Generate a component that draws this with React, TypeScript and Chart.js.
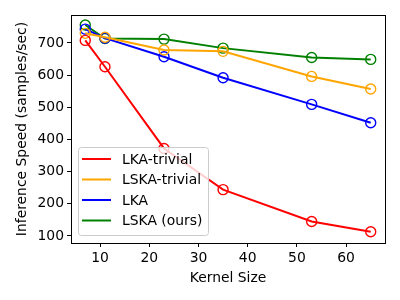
import React, { useEffect, useRef } from "react";
import { Chart, registerables } from "chart.js";

Chart.register(...registerables);

const kernelSizes = [7, 11, 23, 35, 53, 65];
const lkaTrivial = [708, 626, 372, 244, 145, 113];
const lskaTrivial = [730, 718, 678, 674, 596, 557];
const lka = [743, 715, 657, 592, 509, 452];
const lskaOurs = [756, 714, 712, 684, 655, 649];
const yTicks = [100, 200, 300, 400, 500, 600, 700];
const xTicks = [10, 20, 30, 40, 50, 60];

const FONT = "'DejaVu Sans', sans-serif";

const frame = {
  id: "frame",
  afterDraw(chart: any) {
    const { ctx, chartArea: a } = chart;
    ctx.save();
    ctx.strokeStyle = "#000";
    ctx.lineWidth = 1;
    ctx.strokeRect(Math.round(a.left) + 0.5, Math.round(a.top) + 0.5, Math.round(a.right - a.left), Math.round(a.bottom - a.top));
    // legend
    const x0 = 78, y0 = 147, w = 130, h = 88;
    ctx.fillStyle = "rgba(255,255,255,0.8)";
    ctx.strokeStyle = "#cccccc";
    ctx.beginPath();
    (ctx as any).roundRect(x0 + 0.5, y0 + 0.5, w, h, 3);
    ctx.fill();
    ctx.stroke();
    ctx.font = `13.9px ${FONT}`;
    ctx.textBaseline = "middle";
    chart.data.datasets.forEach((ds: any, i: number) => {
      const cy = 159 + i * 20.5;
      ctx.strokeStyle = ds.borderColor;
      ctx.lineWidth = 2;
      ctx.beginPath();
      ctx.moveTo(82, cy);
      ctx.lineTo(111, cy);
      ctx.stroke();
      ctx.fillStyle = "#000";
      ctx.fillText(ds.label, 122, cy + 1);
    });
    ctx.restore();
  },
};

const mk = (label: string, data: number[], color: string) => ({
  label,
  data: kernelSizes.map((x, i) => ({ x, y: data[i] })),
  borderColor: color,
  backgroundColor: "rgba(0,0,0,0)",
  borderWidth: 2,
  pointRadius: 5,
  pointBorderWidth: 1.4,
  pointBorderColor: color,
  pointBackgroundColor: "rgba(0,0,0,0)",
  tension: 0,
});

export default function App() {
  const ref = useRef<HTMLCanvasElement>(null);
  useEffect(() => {
    document.body.style.margin = "0";
    const chart = new Chart(ref.current!, {
      type: "line",
      data: {
        datasets: [
          mk("LKA-trivial", lkaTrivial, "red"),
          mk("LSKA-trivial", lskaTrivial, "orange"),
          mk("LKA", lka, "blue"),
          mk("LSKA (ours)", lskaOurs, "green"),
        ],
      },
      plugins: [frame],
      options: {
        animation: false,
        responsive: false,
        layout: { padding: { top: 15, right: 15, left: 0, bottom: 0 } },
        plugins: { legend: { display: false }, tooltip: { enabled: false } },
        scales: {
          x: {
            type: "linear",
            min: 4.1,
            max: 67.9,
            afterBuildTicks: (s: any) => { s.ticks = xTicks.map((v) => ({ value: v })); },
            afterFit: (s: any) => { s.height = 57; },
            grid: { drawOnChartArea: false, drawTicks: true, tickLength: 4, color: "#000" },
            border: { display: false },
            ticks: { color: "#000", font: { family: FONT, size: 13.9 }, padding: 3, maxRotation: 0 },
            title: { display: true, text: "Kernel Size", color: "#000", font: { family: FONT, size: 13.9 }, padding: { top: 0, bottom: 13 } },
          },
          y: {
            type: "linear",
            min: 78,
            max: 787,
            afterBuildTicks: (s: any) => { s.ticks = yTicks.map((v) => ({ value: v })); },
            afterFit: (s: any) => { s.width = 71; },
            grid: { drawOnChartArea: false, drawTicks: true, tickLength: 4, color: "#000" },
            border: { display: false },
            ticks: { color: "#000", font: { family: FONT, size: 13.9 }, padding: 3 },
            title: { display: true, text: "Inference Speed (samples/sec)", color: "#000", font: { family: FONT, size: 13.9 }, padding: { top: 14, bottom: 0 } },
          },
        },
      },
    } as any);
    return () => chart.destroy();
  }, []);
  return <canvas ref={ref} width={400} height={300} style={{ display: "block" }} />;
}
